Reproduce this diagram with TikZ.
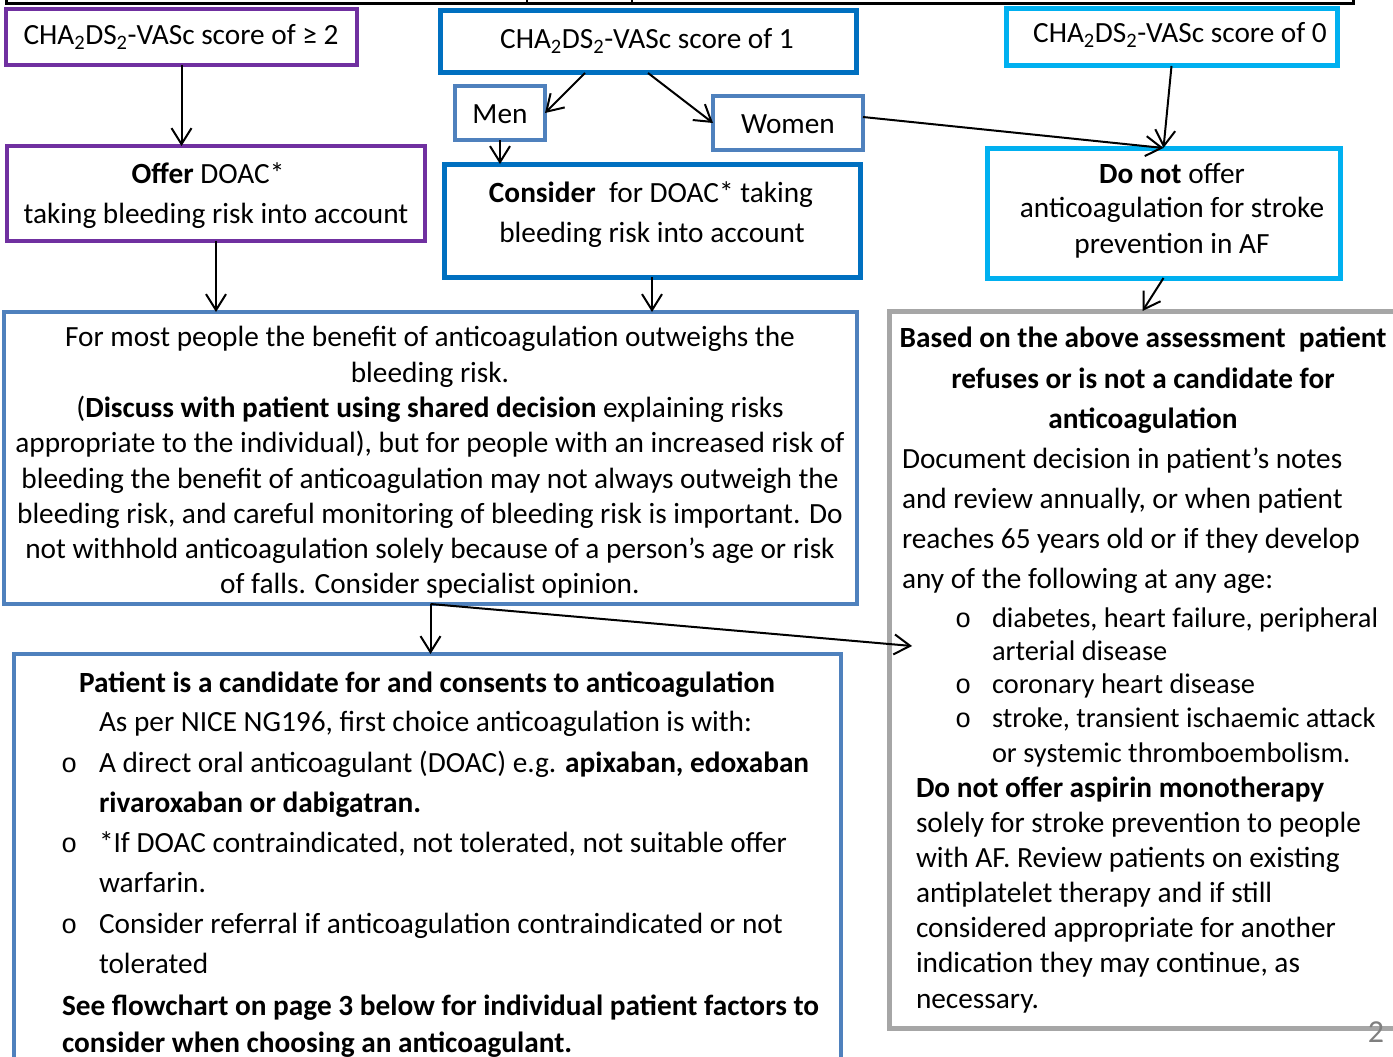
\documentclass[tikz,border=0pt]{standalone}
\usepackage{fontspec}
\setmainfont{Carlito}
\newfontfamily\bulletfont{Liberation Mono}
\usetikzlibrary{arrows.meta,calc}
\definecolor{cpurple}{HTML}{7030A0}
\definecolor{cblue}{HTML}{0070C0}
\definecolor{csteel}{HTML}{4F81BD}
\definecolor{ccyan}{HTML}{00B0F0}
\definecolor{cgrey}{HTML}{A6A6A6}
\definecolor{cpage}{HTML}{7F7F7F}
\newcommand\boxat[6]{\node[box,#6,minimum width={#4-#2},minimum height={#5-#3}] (#1) at ({(#2+#4)/2},{(#3+#5)/2}) {};}
\newcommand\tline[4]{\node[txt,anchor=#1] (#2) at (#3) {#4};}
\newcommand\sline[3]{\node[txt,anchor=base west,font=\fontsize{28.4}{34}\selectfont] (#1) at (#2) {#3};}
\newcommand\bline[2]{\node[bul,anchor=base west] (#1) at (#2) {o};}
\begin{document}
\begin{tikzpicture}[x=1pt,y=-1pt,
 box/.style={draw,rectangle,inner sep=0pt,outer sep=0pt},
 txt/.style={inner sep=0pt,outer sep=0pt,font=\fontsize{29.3}{35}\selectfont},
 bul/.style={inner sep=0pt,outer sep=0pt,font=\bulletfont\fontsize{27}{27}\selectfont},
 arr/.style={-{Straight Barb[length=16pt,width=20pt]},line width=2pt,black},
]
\useasboundingbox (0,0) rectangle (1393,1057);
% top frame remnant
\draw[line width=3pt] (6,-5) -- (6,4) -- (1353,4) -- (1353,-5);
\draw[line width=2pt] (527,-5) -- (527,4) (632,-5) -- (632,4);
% boxes
\boxat{b2}{6}{9}{357}{65}{draw=cpurple,line width=4pt}
\boxat{s1}{440}{11}{856}{73}{draw=cblue,line width=5pt}
\boxat{s0}{1006}{9}{1337}{66}{draw=ccyan,line width=5pt}
\boxat{men}{455}{86}{545}{140}{draw=csteel,line width=4pt}
\boxat{women}{713}{96}{863}{150}{draw=csteel,line width=4pt}
\boxat{offer}{7}{146}{425}{241}{draw=cpurple,line width=4pt}
\boxat{cons}{444}{164}{860}{277}{draw=cblue,line width=5pt}
\boxat{donot}{987}{148}{1340}{278}{draw=ccyan,line width=5pt}
\boxat{big}{4}{312}{857}{604}{draw=csteel,line width=4pt}
\boxat{grey}{889}{311}{1396}{1028}{draw=cgrey,line width=5pt}
\boxat{bot}{14}{654}{841}{1090}{draw=csteel,line width=4pt}
% top texts
\tline{base}{tb2}{181,45}{CHA\textsubscript{2}DS\textsubscript{2}-VASc score of ≥ 2}
\tline{base}{ts1}{647,49}{CHA\textsubscript{2}DS\textsubscript{2}-VASc score of 1}
\tline{base}{ts0}{1180,43}{CHA\textsubscript{2}DS\textsubscript{2}-VASc score of 0}
\tline{base}{tmen}{500,123}{Men}
\tline{base}{twomen}{788,133}{Women}
\tline{base}{toff1}{208,183}{\textbf{Offer} DOAC*}
\tline{base}{toff2}{216,223}{taking bleeding risk into account}
\tline{base}{tcon1}{651,202}{\textbf{Consider}\ \ for DOAC* taking}
\tline{base}{tcon2}{652,242}{bleeding risk into account}
\tline{base}{tdn1}{1172,183}{\textbf{Do not} offer}
\tline{base}{tdn2}{1172,217}{anticoagulation for stroke}
\tline{base}{tdn3}{1172,253}{prevention in AF}
% big box text
\tline{base}{bt1}{430,346}{For most people the benefit of anticoagulation outweighs the}
\tline{base}{bt2}{430,382}{bleeding risk.}
\tline{base}{bt3}{430,417}{(\textbf{Discuss with patient using shared decision} explaining risks}
\tline{base}{bt4}{430,452}{appropriate to the individual), but for people with an increased risk of}
\tline{base}{bt5}{430,488}{bleeding the benefit of anticoagulation may not always outweigh the}
\tline{base}{bt6}{430,523}{bleeding risk, and careful monitoring of bleeding risk is important. Do}
\tline{base}{bt7}{430,558}{not withhold anticoagulation solely because of a person’s age or risk}
\tline{base}{bt8}{430,593}{of falls. Consider specialist opinion.}
% grey box text
\tline{base}{gt1}{1143,347}{\textbf{Based on the above assessment\ \ patient}}
\tline{base}{gt2}{1143,388}{\textbf{refuses or is not a candidate for}}
\tline{base}{gt3}{1143,428}{\textbf{anticoagulation}}
\tline{base west}{gt4}{902,468}{Document decision in patient’s notes}
\tline{base west}{gt5}{902,508}{and review annually, or when patient}
\tline{base west}{gt6}{902,548}{reaches 65 years old or if they develop}
\tline{base west}{gt7}{902,588}{any of the following at any age:}
\bline{gb1}{955,627}
\sline{gt8}{992,627}{diabetes, heart failure, peripheral}
\sline{gt9}{992,660}{arterial disease}
\bline{gb2}{955,693}
\sline{gt10}{992,693}{coronary heart disease}
\bline{gb3}{955,727}
\sline{gt11}{992,727}{stroke, transient ischaemic attack}
\sline{gt12}{992,762}{or systemic thromboembolism.}
\tline{base west}{gt13}{916,797}{\textbf{Do not offer aspirin monotherapy}}
\tline{base west}{gt14}{916,832}{solely for stroke prevention to people}
\tline{base west}{gt15}{916,867}{with AF. Review patients on existing}
\tline{base west}{gt16}{916,902}{antiplatelet therapy and if still}
\tline{base west}{gt17}{916,937}{considered appropriate for another}
\tline{base west}{gt18}{916,972}{indication they may continue, as}
\tline{base west}{gt19}{916,1008}{necessary.}
% bottom box text
\tline{base}{ct1}{427,692}{\textbf{Patient is a candidate for and consents to anticoagulation}}
\tline{base west}{ct2}{99,731}{As per NICE NG196, first choice anticoagulation is with:}
\bline{cb1}{61,772}
\tline{base west}{ct3}{99,772}{A direct oral anticoagulant (DOAC) e.g. \textbf{apixaban, edoxaban}}
\tline{base west}{ct4}{99,812}{\textbf{rivaroxaban or dabigatran.}}
\bline{cb2}{61,852}
\tline{base west}{ct5}{99,852}{*If DOAC contraindicated, not tolerated, not suitable offer}
\tline{base west}{ct6}{99,892}{warfarin.}
\bline{cb3}{61,933}
\tline{base west}{ct7}{99,933}{Consider referral if anticoagulation contraindicated or not}
\tline{base west}{ct8}{99,973}{tolerated}
\tline{base west}{ct9}{62,1015}{\textbf{See flowchart on page 3 below for individual patient factors to}}
\tline{base west}{ct10}{62,1052}{\textbf{consider when choosing an anticoagulant.}}
% page number
\node[inner sep=0pt,anchor=base,text=cpage,font=\fontsize{32}{32}\selectfont] (pg) at (1376,1042) {2};
% connectors
\draw[arr] (b2.south) -- (b2.south |- offer.north);
\draw[arr] ($(s1.south)+(-63,0)$) -- (men.east);
\draw[arr] (s1.south) -- (women.west);
\draw[arr] (men.south) -- (men.south |- cons.north);
\draw[arr] ($(women.east)+(0,-6)$) -- (donot.north);
\draw[arr] (s0.south) -- (donot.north);
\draw[arr] (offer.south) -- (offer.south |- big.north);
\draw[arr] (cons.south) -- (cons.south |- big.north);
\draw[arr] (donot.south) -- (grey.north);
\draw[arr] (big.south) -- (big.south |- bot.north);
\coordinate (gin) at (912,646);
\draw[arr] (big.south) -- (gin);
\end{tikzpicture}
\end{document}
